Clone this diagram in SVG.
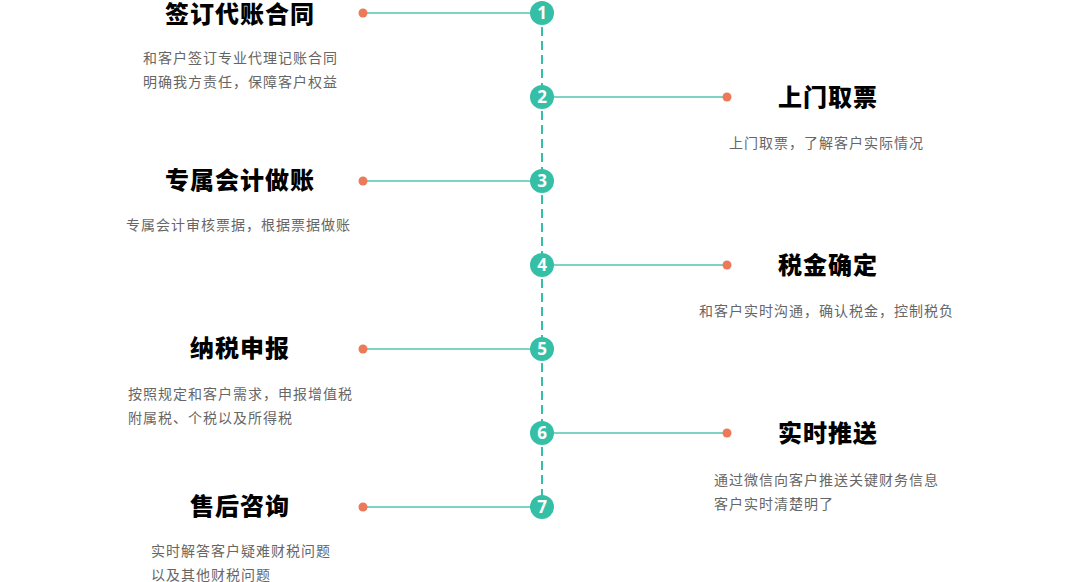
<svg xmlns="http://www.w3.org/2000/svg" width="1080" height="582" viewBox="0 0 1080 582">
<style>
.title{font-family:"Noto Sans CJK SC","Noto Sans",sans-serif;font-size:24px;font-weight:900;fill:#000;letter-spacing:1px;text-anchor:middle}
.desc{font-family:"Noto Sans CJK SC","Noto Sans",sans-serif;font-size:14px;fill:#666;letter-spacing:1px}
.num{font-family:"Open Sans","DejaVu Sans",sans-serif;font-size:17px;font-weight:bold;fill:#fff;text-anchor:middle}
.circ{fill:#35bfa6}
.dot{fill:#ec7a58}
.hl{stroke:#7dd3c4;stroke-width:2;fill:none}
.vl{stroke:#35bfa6;stroke-width:2;stroke-dasharray:9 5;fill:none}
</style>
<rect width="1080" height="582" fill="#fff"/>
<g id="connectors">
<line class="vl" x1="542" y1="13" x2="542" y2="507"/>
<line class="hl" x1="363" y1="13" x2="542" y2="13"/>
<line class="hl" x1="542" y1="97" x2="727" y2="97"/>
<line class="hl" x1="363" y1="181" x2="542" y2="181"/>
<line class="hl" x1="542" y1="265" x2="727" y2="265"/>
<line class="hl" x1="363" y1="349" x2="542" y2="349"/>
<line class="hl" x1="542" y1="433" x2="727" y2="433"/>
<line class="hl" x1="363" y1="507" x2="542" y2="507"/>
</g>
<g id="step1">
<circle class="circ" cx="542" cy="13" r="12"/><text class="num" x="542" y="19">1</text>
<circle class="dot" cx="363" cy="13" r="4.5"/>
<text class="title" x="240" y="22.5">签订代账合同</text>
<text class="desc" x="143" y="63">和客户签订专业代理记账合同</text>
<text class="desc" x="143" y="87">明确我方责任，保障客户权益</text>
</g>
<g id="step2">
<circle class="circ" cx="542" cy="97" r="12"/><text class="num" x="542" y="103">2</text>
<circle class="dot" cx="727" cy="97" r="4.5"/>
<text class="title" x="828" y="105.5">上门取票</text>
<text class="desc" x="729" y="148">上门取票，了解客户实际情况</text>
</g>
<g id="step3">
<circle class="circ" cx="542" cy="181" r="12"/><text class="num" x="542" y="187">3</text>
<circle class="dot" cx="363" cy="181" r="4.5"/>
<text class="title" x="240" y="189">专属会计做账</text>
<text class="desc" x="126" y="230">专属会计审核票据，根据票据做账</text>
</g>
<g id="step4">
<circle class="circ" cx="542" cy="265" r="12"/><text class="num" x="542" y="271">4</text>
<circle class="dot" cx="727" cy="265" r="4.5"/>
<text class="title" x="828" y="273.5">税金确定</text>
<text class="desc" x="699" y="316">和客户实时沟通，确认税金，控制税负</text>
</g>
<g id="step5">
<circle class="circ" cx="542" cy="349" r="12"/><text class="num" x="542" y="355">5</text>
<circle class="dot" cx="363" cy="349" r="4.5"/>
<text class="title" x="240" y="357">纳税申报</text>
<text class="desc" x="128" y="399">按照规定和客户需求，申报增值税</text>
<text class="desc" x="128" y="423">附属税、个税以及所得税</text>
</g>
<g id="step6">
<circle class="circ" cx="542" cy="433" r="12"/><text class="num" x="542" y="439">6</text>
<circle class="dot" cx="727" cy="433" r="4.5"/>
<text class="title" x="828" y="441.5">实时推送</text>
<text class="desc" x="714" y="485">通过微信向客户推送关键财务信息</text>
<text class="desc" x="714" y="509">客户实时清楚明了</text>
</g>
<g id="step7">
<circle class="circ" cx="542" cy="507" r="12"/><text class="num" x="542" y="513">7</text>
<circle class="dot" cx="363" cy="507" r="4.5"/>
<text class="title" x="240" y="515">售后咨询</text>
<text class="desc" x="151" y="556">实时解答客户疑难财税问题</text>
<text class="desc" x="151" y="580">以及其他财税问题</text>
</g>
</svg>
